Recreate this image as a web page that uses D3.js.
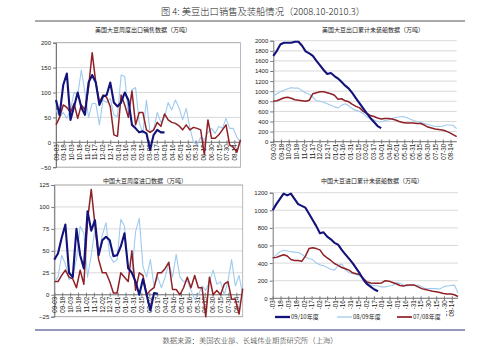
<!DOCTYPE html>
<html><head><meta charset="utf-8">
<script src="https://cdn.jsdelivr.net/npm/d3@7"></script>
<style>body{margin:0;background:#fff} svg{display:block}</style>
</head><body><svg id="c" width="499" height="352"></svg>
<script>
// ---- data ----
const dateLabels = ["09-03","09-18","10-03","10-18","11-02","11-17","12-02","12-17","01-01","01-16","01-31","02-15","03-02","03-17","04-01","04-16","05-01","05-16","05-31","06-15","06-30","07-15","07-30","08-14"];
const seriesNames = ["09/10年度","08/09年度","07/08年度"];
const chartTitle = "图 4: 美豆出口销售及装船情况（2008.10-2010.3）";
const sourceText = "数据来源：美国农业部、长城伟业期货研究所（上海）";
const panelTitles = ["美国大豆周度出口销售数据（万吨）","美国大豆出口累计未装船数据（万吨）","中国大豆周度进口数据（万吨）","中国大豆进口累计未装船数据（万吨）"];

const usSales0910 = [85,55,115,138,45,72,100,70,55,120,135,120,75,92,95,120,80,72,80,100,85,35,28,20,22,18,-15,15,25,20,20];
const usSales0809 = [65,50,60,48,65,100,95,145,100,50,78,78,35,85,80,88,55,52,135,132,55,105,110,40,18,85,20,25,60,40,50,80,65,85,70,45,68,30,0,-5,10,5,20,28,18,32,28,48,28,28,10,0];
const usSales0708 = [35,50,75,70,60,78,48,75,65,110,180,120,80,95,90,72,15,12,95,75,50,103,35,60,60,25,20,25,40,32,57,45,40,38,33,25,35,25,30,28,25,-25,45,8,8,15,25,35,-5,-10,-20,5];

const usOut0910 = [1700,1800,1930,1960,1960,1960,1980,1980,1900,1790,1750,1700,1600,1510,1420,1340,1360,1300,1250,1180,1110,1050,960,860,760,660,560,470,390,310,270];
const usOut0809 = [900,950,990,1020,1050,1070,1060,1060,1010,970,940,880,810,800,780,750,720,690,670,720,750,710,650,620,600,560,490,460,430,400,390,420,430,460,480,490,500,480,450,420,400,380,360,340,320,300,300,300,330,330,320,260];
const usOut0708 = [800,810,840,870,880,860,830,820,810,800,820,950,970,990,990,970,950,920,840,850,810,790,740,700,670,600,560,520,500,470,450,460,460,450,430,400,380,370,370,370,360,360,330,290,270,250,240,230,210,180,140,100];

const cnImp0910 = [40,47,65,80,25,20,75,45,30,95,73,85,45,62,66,62,44,45,55,70,30,25,15,0,18,0,-18,2,1];
const cnImp0809 = [15,20,45,35,17,22,40,78,70,20,45,75,45,68,82,45,37,40,86,78,30,25,72,87,32,20,40,10,20,8,20,36,20,46,20,15,16,5,-5,0,10,5,15,28,12,15,0,15,40,10,22,0];
const cnImp0708 = [15,15,22,28,20,18,8,28,12,85,120,80,40,25,25,15,2,2,25,20,15,50,5,25,22,0,5,8,25,25,30,37,6,6,0,8,20,8,22,8,8,-25,20,0,5,0,12,15,-5,-5,-22,7];

const cnOut0910 = [1000,1070,1130,1190,1170,1190,1130,1070,1050,1030,960,890,820,740,750,700,670,630,610,550,500,450,400,340,280,210,160,130,100,80];
const cnOut0809 = [460,490,530,545,540,530,525,520,500,470,450,440,400,380,370,350,330,320,370,390,330,290,280,270,250,230,180,150,145,140,130,130,140,145,175,170,150,140,150,145,150,130,110,110,110,110,105,130,140,145,150,60];
const cnOut0708 = [460,465,480,495,480,440,430,430,420,480,565,575,565,550,490,460,430,395,375,350,335,320,290,280,270,220,185,175,170,170,175,200,195,180,165,145,140,150,150,150,130,110,100,90,80,75,65,55,50,50,40,20];

const yTicksA = [-50,0,50,100,150,200];
const yTicksB = [0,200,400,600,800,1000,1200,1400,1600,1800,2000];
const yTicksC = [-25,0,25,50,75,100,125];
const yTicksD = [0,200,400,600,800,1000,1200];

// ---- styles / layout ----
const colors = ["#12127a","#9fcbef","#8e2026"];
const widths = [2.1,1.1,1.5];
const numFont = "'Liberation Sans', Arial, sans-serif";
const cjkFont = "'Noto Sans CJK SC', sans-serif";

const svg = d3.select("#c");

svg.append("text").attr("x",263).attr("y",15).attr("text-anchor","middle")
  .attr("font-family",cjkFont).attr("font-size",9.3).attr("font-weight",300).attr("fill","#222").text(chartTitle);
svg.append("line").attr("x1",35).attr("x2",465).attr("y1",21).attr("y2",21).attr("stroke","#555").attr("stroke-width",1);
svg.append("line").attr("x1",35).attr("x2",465).attr("y1",330).attr("y2",330).attr("stroke","#7474a4").attr("stroke-width",1.5);
svg.append("text").attr("x",250).attr("y",343).attr("text-anchor","middle")
  .attr("font-family",cjkFont).attr("font-size",7.3).attr("font-weight",300).attr("fill","#222").text(sourceText);

const panels = [
  {title:panelTitles[0], tx:143, ty:32, x0:56, x1:240.5, yb:167.2, yt:42.7, dom:[-50,200], ticks:yTicksA, frame:true, data:[usSales0809,usSales0708,usSales0910]},
  {title:panelTitles[1], tx:373, ty:32, x0:273.3, x1:456.7, yb:141.7, yt:40.7, dom:[0,2000], ticks:yTicksB, frame:false, data:[usOut0809,usOut0708,usOut0910]},
  {title:panelTitles[2], tx:145, ty:183, x0:54.3, x1:242.7, yb:316.7, yt:185, dom:[-25,125], ticks:yTicksC, frame:true, data:[cnImp0809,cnImp0708,cnImp0910]},
  {title:panelTitles[3], tx:372, ty:183, x0:272.7, x1:458, yb:298.3, yt:192.7, dom:[0,1200], ticks:yTicksD, frame:false, data:[cnOut0809,cnOut0708,cnOut0910]}
];
const order = [1,2,0]; // color index for data[0..2]

panels.forEach((p,pi)=>{
  const g = svg.append("g");
  const x = d3.scaleLinear().domain([0,357]).range([p.x0,p.x1]);
  const y = d3.scaleLinear().domain(p.dom).range([p.yb,p.yt]);
  g.append("text").attr("x",p.tx).attr("y",p.ty).attr("text-anchor","middle")
    .attr("font-family",cjkFont).attr("font-size",6).attr("fill","#222").text(p.title);
  // grid
  g.selectAll(".grid").data(p.ticks).enter().append("line")
    .attr("x1",p.x0).attr("x2",p.x1).attr("y1",d=>y(d)).attr("y2",d=>y(d))
    .attr("stroke","#cfcfcf").attr("stroke-width",0.8);
  if(p.frame){
    g.append("rect").attr("x",p.x0).attr("y",p.yt).attr("width",p.x1-p.x0).attr("height",p.yb-p.yt)
      .attr("fill","none").attr("stroke","#a8a8a8").attr("stroke-width",0.8);
  }
  // y axis
  const ya = d3.axisLeft(y).tickValues(p.ticks).tickSize(3).tickPadding(2).tickFormat(d3.format("d"));
  const yg = g.append("g").attr("transform",`translate(${p.x0},0)`).call(ya);
  yg.select(".domain").attr("stroke","#777");
  yg.selectAll(".tick line").attr("stroke","#777");
  yg.selectAll("text").attr("font-family",numFont).attr("font-size",6).attr("fill","#222");
  // x axis at zero
  const y0 = y(0);
  const tickDays = dateLabels.map((d,i)=>i*15);
  const xa = d3.axisBottom(x).tickValues(tickDays).tickSize(2).tickFormat((d,i)=>dateLabels[i]);
  const xg = g.append("g").attr("transform",`translate(0,${y0})`).call(xa);
  xg.select(".domain").attr("stroke","#777").attr("d",`M${p.x0},0H${p.x1}`);
  xg.selectAll(".tick line").attr("stroke","#777").attr("y1",-2);
  xg.selectAll("text").attr("font-family",numFont).attr("font-size",6.3).attr("fill","#222")
    .attr("text-anchor","end").attr("transform","rotate(-90)").attr("x",-2).attr("y",0).attr("dy","0.35em");
  // lines
  const line = d3.line().x((d,i)=>x(i*7)).y(d=>y(d));
  p.data.forEach((arr,k)=>{
    const ci = order[k];
    g.append("path").datum(arr).attr("d",line).attr("fill","none")
      .attr("stroke",colors[ci]).attr("stroke-width",widths[ci]).attr("stroke-linejoin","round");
  });
});

// legend (bottom-right panel)
const lg = svg.append("g");
lg.append("rect").attr("x",268).attr("y",309).attr("width",178).attr("height",16).attr("fill","#fff");
const legX = [275,337,397];
seriesNames.forEach((n,i)=>{
  lg.append("line").attr("x1",legX[i]).attr("x2",legX[i]+15).attr("y1",317).attr("y2",317)
    .attr("stroke",colors[i]).attr("stroke-width",widths[i]+0.2);
  lg.append("text").attr("x",legX[i]+16).attr("y",319.2).attr("font-family",cjkFont)
    .attr("font-size",6).attr("fill","#222").text(n);
});
</script></body></html>
